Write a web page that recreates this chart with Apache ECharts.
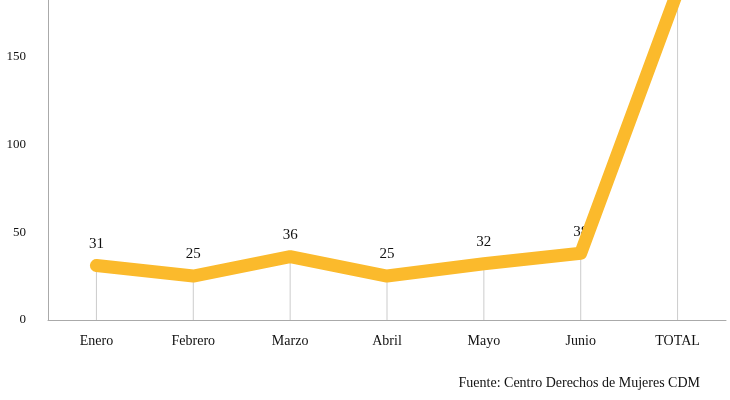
<!DOCTYPE html>
<html><head><meta charset="utf-8">
<script src="https://cdn.jsdelivr.net/npm/echarts@6/dist/echarts.min.js"></script>
<style>html,body{margin:0;background:#fff}#c{width:730px;height:400px}</style>
</head><body><div id="c"></div>
<script>
const categories = ["Enero","Febrero","Marzo","Abril","Mayo","Junio","TOTAL"];
const values = [31,25,36,25,32,38,187];
const labels = ["31","25","36","25","32","38",""];
const yTicks = [0,50,100,150];
const font = "Liberation Serif";
const chart = echarts.init(document.getElementById('c'));
chart.setOption({
  animation:false,
  grid:{left:48,right:4,top:0,bottom:80},
  xAxis:{type:'category',data:categories,boundaryGap:true,
    axisLine:{lineStyle:{color:'#aaa'}},axisTick:{show:false},
    axisLabel:{color:'#111',fontFamily:font,fontSize:14,margin:14}},
  yAxis:{type:'value',min:0,max:182,interval:50,
    axisLine:{show:true,lineStyle:{color:'#aaa'}},axisTick:{show:false},splitLine:{show:false},
    axisLabel:{color:'#111',fontFamily:font,fontSize:13,margin:22,
      formatter:v=>yTicks.includes(v)?String(v):''}},
  series:[
    {type:'bar',data:values,barWidth:1,itemStyle:{color:'#ccc'},silent:true,
     label:{show:true,position:'top',distance:14,fontFamily:font,fontSize:15,color:'#111',
       formatter:p=>labels[p.dataIndex]}},
    {type:'line',data:values,symbol:'none',lineStyle:{width:13,color:'#FBBA2C',cap:'round',join:'round'}}
  ],
  graphic:[{type:'text',right:30,top:376,style:{text:'Fuente: Centro Derechos de Mujeres CDM',font:'14px "Liberation Serif"',fill:'#111'}}]
});
</script></body></html>
